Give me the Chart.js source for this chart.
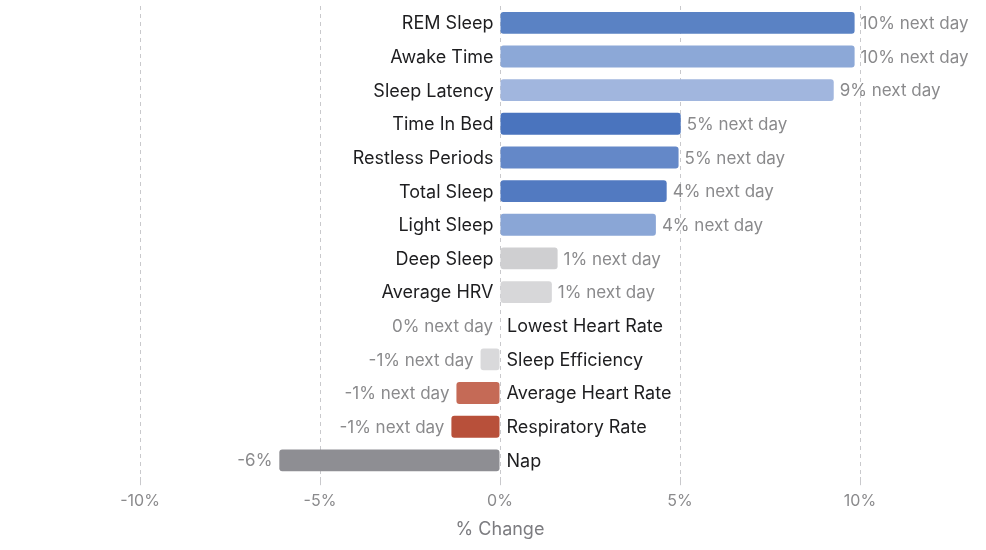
<!DOCTYPE html>
<html>
<head>
<meta charset="utf-8">
<script src="https://cdn.jsdelivr.net/npm/chart.js@4/dist/chart.umd.min.js"></script>
<style>
  html, body { margin: 0; padding: 0; background: #fff; }
  #wrap { width: 986px; height: 550px; position: relative; }
</style>
</head>
<body>
<div id="wrap"><canvas id="grafico"></canvas></div>
<script>
// categorias y valores
var categorias = ['REM Sleep', 'Awake Time', 'Sleep Latency', 'Time In Bed', 'Restless Periods',
  'Total Sleep', 'Light Sleep', 'Deep Sleep', 'Average HRV', 'Lowest Heart Rate',
  'Sleep Efficiency', 'Average Heart Rate', 'Respiratory Rate', 'Nap'];
var cambios = [9.85, 9.85, 9.27, 5.02, 4.96, 4.63, 4.33, 1.6, 1.44, 0, -0.54, -1.21, -1.35, -6.13];
var etiquetasValor = ['10% next day', '10% next day', '9% next day', '5% next day', '5% next day',
  '4% next day', '4% next day', '1% next day', '1% next day', '0% next day',
  '-1% next day', '-1% next day', '-1% next day', '-6%'];
var marcasEje = [-10, -5, 0, 5, 10];

var colores = ['#5a82c4', '#8ca8d7', '#a1b6de', '#4a74be', '#6488c8', '#527ac1', '#8aa6d6',
  '#cfcfd1', '#d7d7d9', '#d7d7d9', '#d9d9db', '#c56a56', '#b8503a', '#8e8e93'];

var fuente = 'Inter, "Noto Sans", sans-serif';

// dibuja nombre de categoria junto al cero y el valor al final de la barra
var etiquetasPlugin = {
  id: 'etiquetas',
  afterDatasetsDraw: function(chart) {
    var ctx = chart.ctx;
    var meta = chart.getDatasetMeta(0);
    ctx.save();
    ctx.textBaseline = 'middle';
    meta.data.forEach(function(bar, i) {
      var positivo = cambios[i] > 0;
      ctx.font = '18px ' + fuente;
      ctx.fillStyle = '#1d1d1f';
      ctx.textAlign = positivo ? 'right' : 'left';
      ctx.fillText(categorias[i], positivo ? bar.base - 7 : bar.base + 7, bar.y + 1);
      ctx.font = '17px ' + fuente;
      ctx.fillStyle = '#8a8a8c';
      ctx.textAlign = positivo ? 'left' : 'right';
      ctx.fillText(etiquetasValor[i], positivo ? bar.x + 6 : bar.x - 7, bar.y + 1);
    });
    ctx.restore();
  }
};

var ctx = document.getElementById('grafico').getContext('2d');
new Chart(ctx, {
  type: 'bar',
  data: {
    labels: categorias,
    datasets: [{
      data: cambios,
      backgroundColor: colores,
      borderRadius: 3,
      borderSkipped: false,
      barPercentage: 0.65,
      categoryPercentage: 1
    }]
  },
  options: {
    indexAxis: 'y',
    responsive: true,
    maintainAspectRatio: false,
    animation: false,
    layout: { padding: { top: 6, bottom: 10, left: 14, right: 0 } },
    plugins: {
      legend: { display: false },
      tooltip: { enabled: false }
    },
    scales: {
      x: {
        min: -486 / 36,
        max: 486 / 36,
        afterBuildTicks: function(scale) {
          scale.ticks = marcasEje.map(function(v) { return { value: v }; });
        },
        grid: { color: '#c9c9cc', lineWidth: 1, tickLength: 8, drawTicks: true },
        border: { display: false, dash: [4, 4] },
        ticks: {
          padding: 6,
          color: '#8a8a8c',
          font: { family: fuente, size: 16 },
          callback: function(v) { return v + '%'; }
        },
        title: {
          display: true,
          text: '% Change',
          color: '#7c7c80',
          font: { family: fuente, size: 18 },
          padding: { top: 2, bottom: 0 }
        }
      },
      y: {
        display: false
      }
    }
  },
  plugins: [etiquetasPlugin]
});
</script>
</body>
</html>
